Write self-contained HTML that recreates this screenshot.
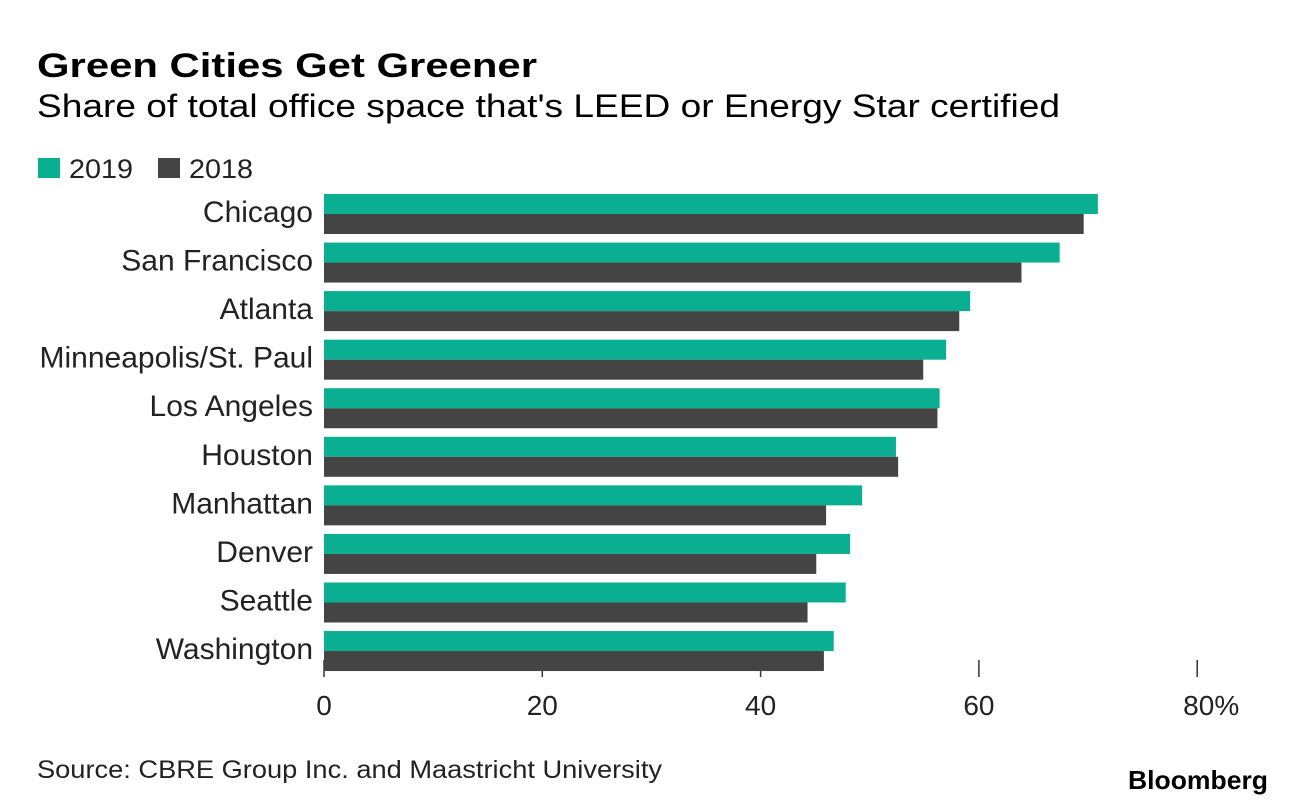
<!DOCTYPE html>
<html><head><meta charset="utf-8"><style>
html,body{margin:0;padding:0;background:#fff;}
svg text{font-family:"Liberation Sans",sans-serif;}
</style></head><body>
<svg width="1296" height="806" viewBox="0 0 1296 806">
<rect width="1296" height="806" fill="#fff"/>
<text x="37" y="77" font-size="34" font-weight="bold" fill="#000" textLength="500" lengthAdjust="spacingAndGlyphs">Green Cities Get Greener</text>
<text x="37" y="117" font-size="32" fill="#000" textLength="1023" lengthAdjust="spacingAndGlyphs">Share of total office space that's LEED or Energy Star certified</text>
<g>
<rect x="38" y="158" width="22" height="20" fill="#0aaf91"/>
<text x="69" y="178" font-size="27" fill="#222" textLength="64" lengthAdjust="spacingAndGlyphs">2019</text>
<rect x="158" y="158" width="22" height="20" fill="#444"/>
<text x="189" y="178" font-size="27" fill="#222" textLength="64" lengthAdjust="spacingAndGlyphs">2018</text>
</g>
<g id="plot"></g>
<text x="37" y="778" font-size="25" fill="#222" textLength="625" lengthAdjust="spacingAndGlyphs">Source: CBRE Group Inc. and Maastricht University</text>
<text x="1268" y="789" font-size="26" font-weight="bold" fill="#000" text-anchor="end" textLength="140" lengthAdjust="spacingAndGlyphs">Bloomberg</text>
</svg>
<script>
const categories=["Chicago","San Francisco","Atlanta","Minneapolis/St. Paul","Los Angeles","Houston","Manhattan","Denver","Seattle","Washington"];
const values2019=[70.9,67.4,59.2,57.0,56.4,52.4,49.3,48.2,47.8,46.7];
const values2018=[69.6,63.9,58.2,54.9,56.2,52.6,46.0,45.1,44.3,45.8];
const tickValues=[0,20,40,60,80];
const tickLabels=["0","20","40","60","80%"];
const NS="http://www.w3.org/2000/svg";
const plot=document.getElementById('plot');
const x=v=>324+v*10.915;
const rowY=i=>194+i*48.56;
function mk(t,a){const e=document.createElementNS(NS,t);for(const k in a)e.setAttribute(k,a[k]);plot.appendChild(e);return e;}
tickValues.forEach((v,i)=>{
  const l=mk('line',{x1:x(v),x2:x(v),y1:660,y2:677,stroke:'#333','stroke-width':1.5});
  
  
  const t=mk('text',{x:x(v)+(i==4?14:0),y:715,'font-size':28,fill:'#222','text-anchor':'middle'});
  t.textContent=tickLabels[i];
  
  
});
categories.forEach((c,i)=>{
  const y=rowY(i);
  const b1=mk('rect',{x:x(0),y:y,width:x(values2019[i])-x(0),height:20,fill:'#0aaf91'});
  
  
  const b2=mk('rect',{x:x(0),y:y+20,width:x(values2018[i])-x(0),height:20,fill:'#444'});
  
  
  const t=mk('text',{x:313,y:y+28,'font-size':30,fill:'#222','text-anchor':'end'});
  t.textContent=c;
  
  
});
</script>
</body></html>
